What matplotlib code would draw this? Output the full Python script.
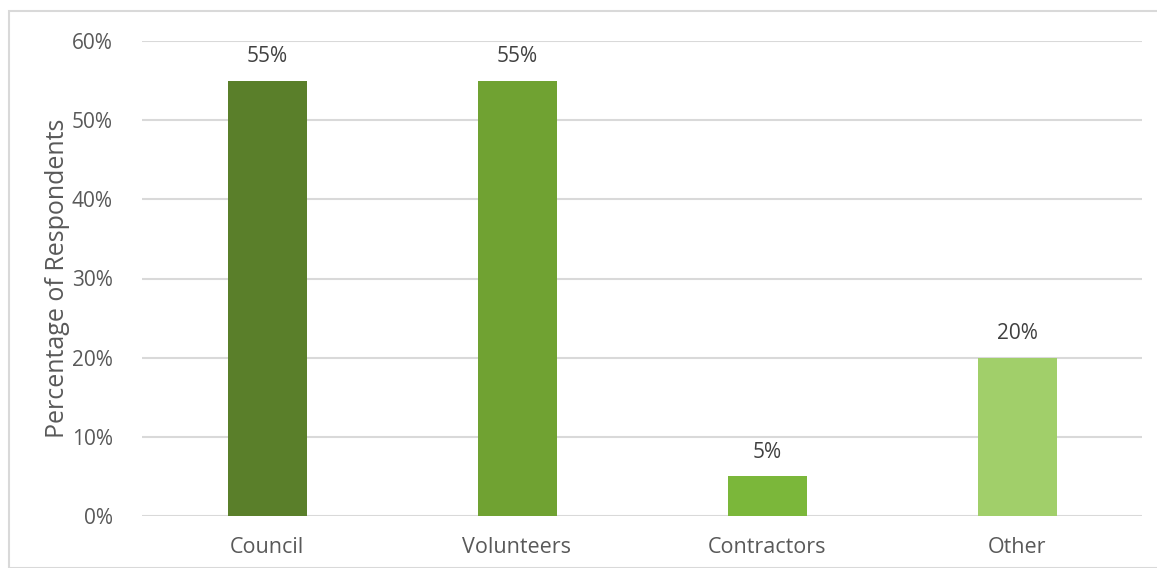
import matplotlib
matplotlib.use("Agg")
import matplotlib.pyplot as plt
from matplotlib.ticker import FuncFormatter, MultipleLocator
from matplotlib.patches import Rectangle

categories = ["Council", "Volunteers", "Contractors", "Other"]
values = [55, 55, 5, 20]
colors = ["#5A7F2A", "#70A232", "#7BB73A", "#A1CF6A"]

plt.rcParams['font.family'] = ['Open Sans', 'DejaVu Sans']
W, H = 1157, 568
fig = plt.figure(figsize=(W/100, H/100), dpi=100)
fig.patches.append(Rectangle((9/W, 0), 1.2, (H-11)/H, transform=fig.transFigure,
                             fill=False, edgecolor="#D9D9D9", linewidth=1.5))
ax = fig.add_axes([142/W, 1-516/H, 1000/W, 475/H])

x = list(range(len(categories)))
bars = ax.bar(x, values, width=0.316, color=colors, zorder=3)
for xi, v in zip(x, values):
    ax.text(xi, v + 1.7, f"{v}%", ha="center", va="bottom", fontsize=15, color="#404040")

ax.set_xlim(-0.5, len(categories) - 0.5)
ax.set_ylim(0, 60)
ax.yaxis.set_major_locator(MultipleLocator(10))
ax.yaxis.set_major_formatter(FuncFormatter(lambda v, p: f"{v:.0f}%"))
ax.set_xticks(x)
ax.set_xticklabels(categories)
ax.grid(axis="y", color="#D9D9D9", linewidth=1.5, zorder=0)
for s in ax.spines.values():
    s.set_visible(False)
ax.tick_params(axis="both", length=0, labelsize=15.5, colors="#595959")
ax.tick_params(axis="y", pad=21, labelsize=15)
ax.tick_params(axis="x", pad=15)
ax.set_ylabel("Percentage of Respondents", fontsize=18, color="#595959")
ax.yaxis.set_label_coords(-0.072, 0.5)

fig.savefig("out.png", dpi=100)
